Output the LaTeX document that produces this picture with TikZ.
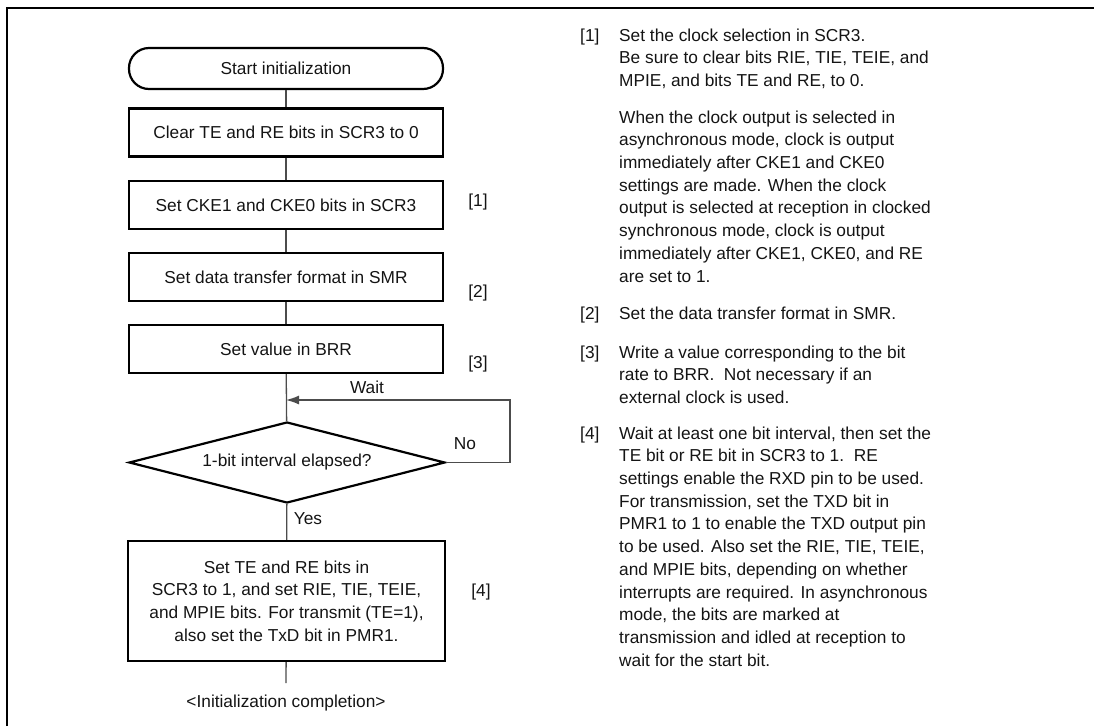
\documentclass[tikz,border=0pt]{standalone}
\usepackage{fontspec}
\setmainfont{Liberation Sans}
\usetikzlibrary{shapes.geometric, arrows.meta}

\tikzset{
    proc/.style = {draw=black, line width=2.2pt, minimum width=314pt, minimum height=48pt, inner sep=0pt},
    term/.style = {proc, rounded corners=20pt, minimum height=41pt},
    cond/.style = {draw=black, diamond, line width=2.2pt, aspect=3.9, minimum width=316pt, minimum height=81pt, inner sep=0pt},
    link/.style = {draw=black!70, line width=1.3pt},
    note/.style = {anchor=north west, align=left, inner sep=0pt},
}

\begin{document}
\begin{tikzpicture}[x=1pt, y=-1pt, font=\fontsize{17.3}{22.7}\selectfont, text=black!92]
    \useasboundingbox (0,0) rectangle (1094,726);

    %frame
        \draw[line width=2.3pt] (7,726) -- (7,7.8) -- (1094,7.8);

    %flow chart boxes
        \node[term] (start) at (286,68.5) {Start initialization};
        \node[proc] (clear) at (286,132.5) {Clear TE and RE bits in SCR3 to 0};
        \node[proc] (cke) at (286,205) {Set CKE1 and CKE0 bits in SCR3};
        \node[proc] (smr) at (286,277) {Set data transfer format in SMR};
        \node[proc] (brr) at (286,349) {Set value in BRR};
        \node[cond] (elapsed) at (287,462.5) {1-bit interval elapsed?};
        \node[proc, minimum width=317pt, minimum height=120pt, align=center] (enable) at (286.5,601)
            {Set TE and RE bits in\\SCR3 to 1, and set RIE, TIE, TEIE,\\and MPIE bits. For transmit (TE=1),\\also set the TxD bit in PMR1.};
        \coordinate (done) at (286,683);
        \node (finish) at (286,703) {<Initialization completion>};
        \coordinate (loop) at (510,400);

    %connectors
        \draw[link] (start) -- (clear);
        \draw[link] (clear) -- (cke);
        \draw[link] (cke) -- (smr);
        \draw[link] (smr) -- (brr);
        \draw[link] (brr) -- (elapsed);
        \draw[link] (elapsed) -- (enable);
        \draw[link] (enable) -- (done);
        \draw[link, -{Latex[length=13pt, width=9pt]}] (elapsed.east) -| (loop) -- (loop -| brr.south);

    %branch labels
        \node[anchor=base] (wait) at (367,393) {Wait};
        \node[anchor=base] (no) at (465,449) {No};
        \node[anchor=base] (yes) at (308,524) {Yes};

    %step marks
        \node[anchor=base] (m1) at (478,206) {[1]};
        \node[anchor=base] (m2) at (478,297) {[2]};
        \node[anchor=base] (m3) at (478,368) {[3]};
        \node[anchor=base] (m4) at (481,596) {[4]};

    %notes
        \node[note] (k1) at (580,28.4) {[1]};
        \node[note] (t1) at (619,28.4) {Set the clock selection in SCR3.\\Be sure to clear bits RIE, TIE, TEIE, and\\MPIE, and bits TE and RE, to 0.};
        \node[note] (t1b) at (619,110.4) {When the clock output is selected in\\asynchronous mode, clock is output\\immediately after CKE1 and CKE0\\settings are made. When the clock\\output is selected at reception in clocked\\synchronous mode, clock is output\\immediately after CKE1, CKE0, and RE\\are set to 1.};
        \node[note] (k2) at (580,306.4) {[2]};
        \node[note] (t2) at (619,306.4) {Set the data transfer format in SMR.};
        \node[note] (k3) at (580,345.4) {[3]};
        \node[note] (t3) at (619,345.4) {Write a value corresponding to the bit\\rate to BRR.\ \ Not necessary if an\\external clock is used.};
        \node[note] (k4) at (580,426.4) {[4]};
        \node[note] (t4) at (619,426.4) {Wait at least one bit interval, then set the\\TE bit or RE bit in SCR3 to 1.\ \ RE\\settings enable the RXD pin to be used.\\For transmission, set the TXD bit in\\PMR1 to 1 to enable the TXD output pin\\to be used. Also set the RIE, TIE, TEIE,\\and MPIE bits, depending on whether\\interrupts are required. In asynchronous\\mode, the bits are marked at\\transmission and idled at reception to\\wait for the start bit.};

\end{tikzpicture}
\end{document}
